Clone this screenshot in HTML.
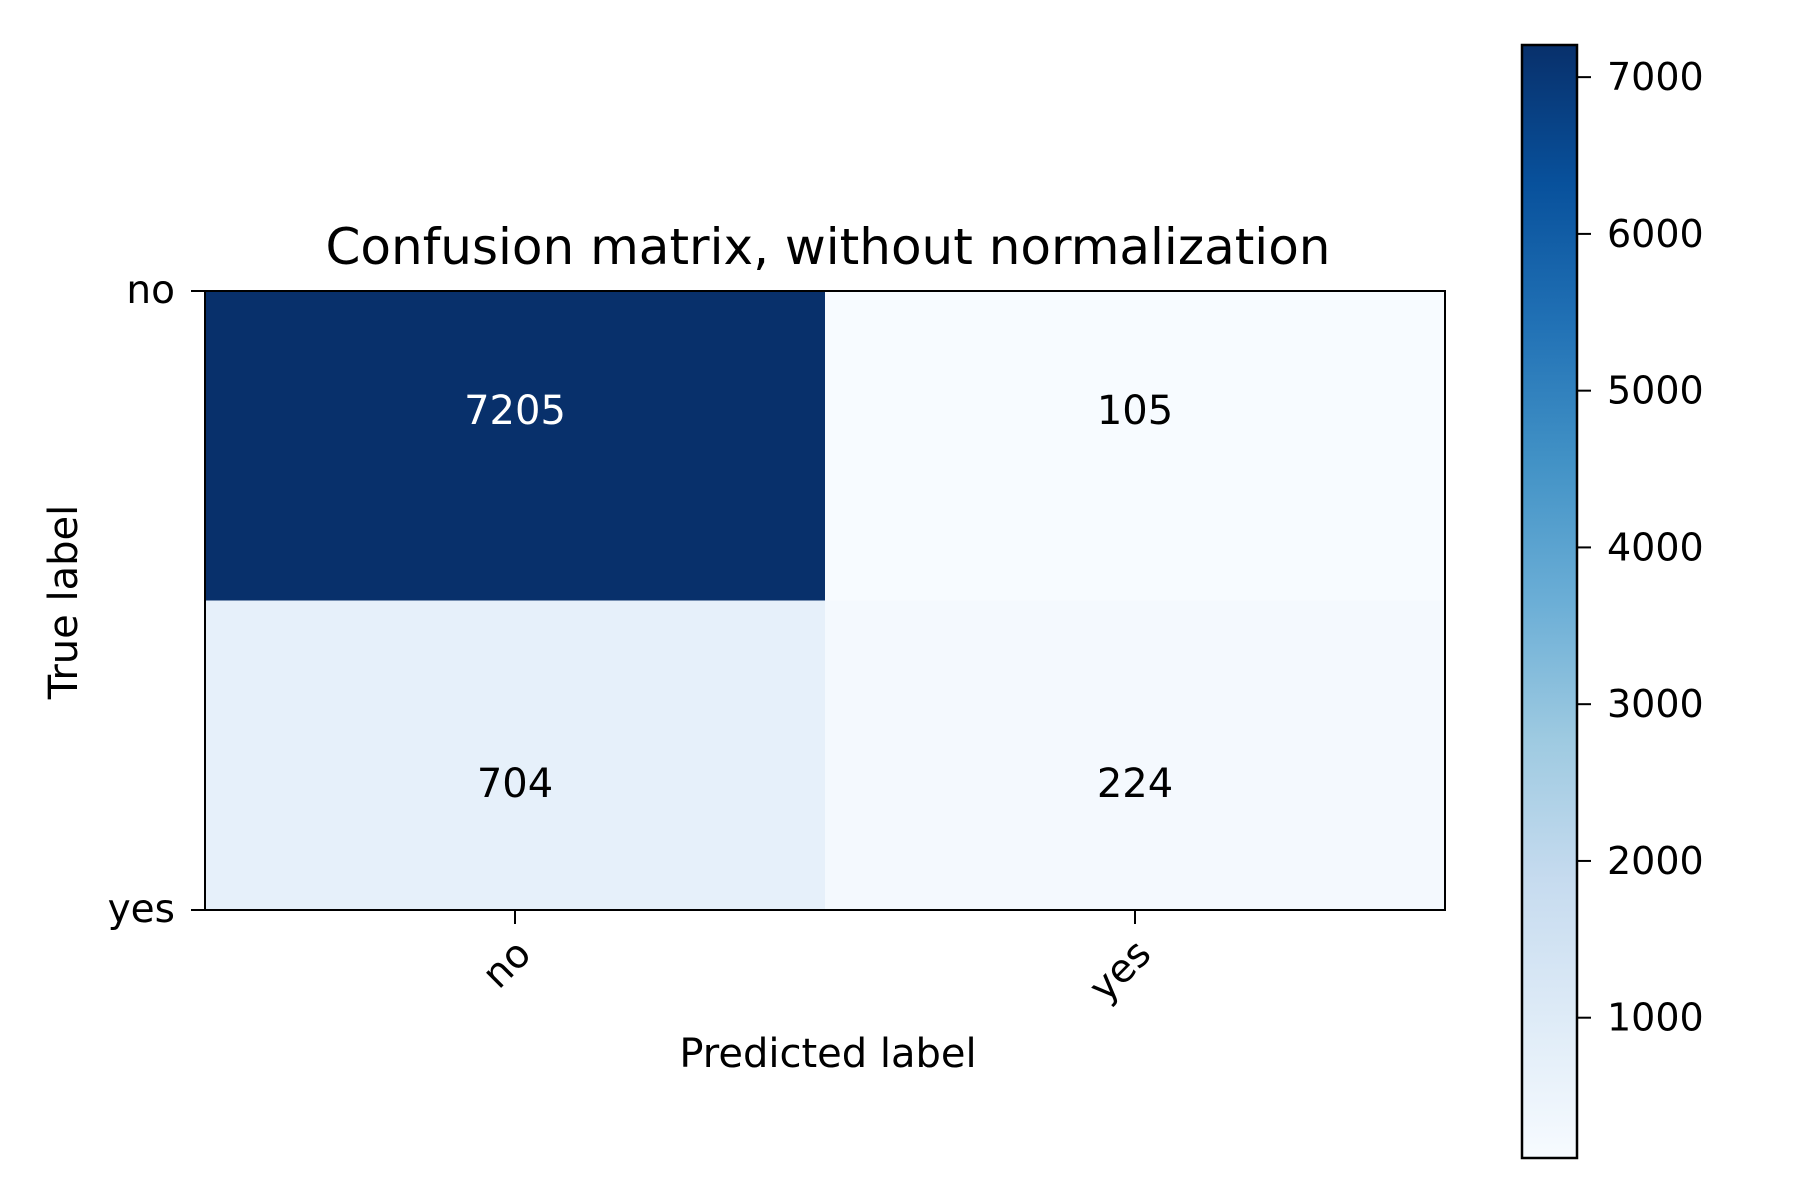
<!DOCTYPE html>
<html><head><meta charset="utf-8"><style>
html,body{margin:0;padding:0;background:#fff;}
svg{display:block;font-family:"DejaVu Sans","Liberation Sans",sans-serif;}
</style></head><body>
<svg id="chart" width="1800" height="1200" viewBox="0 0 1800 1200" xmlns="http://www.w3.org/2000/svg">
<rect width="1800" height="1200" fill="#fff"/>
<text x="828" y="264" font-size="50" text-anchor="middle" fill="#000">Confusion matrix, without normalization</text>
<g id="cells"></g>
<g id="axes"></g>
<text x="828" y="1067" font-size="40" text-anchor="middle">Predicted label</text>
<text x="0" y="0" font-size="40" text-anchor="middle" transform="translate(77,602) rotate(-90)">True label</text>
<defs><linearGradient id="cbgrad" x1="0" y1="1" x2="0" y2="0"></linearGradient></defs>
<g id="colorbar"></g>
</svg>
<script>
const trueLabels = ["no","yes"];
const predLabels = ["no","yes"];
const matrixValues = [[7205,105],[704,224]];
const colorbarTicks = [1000,2000,3000,4000,5000,6000,7000];
const blues = ["#f7fbff","#deebf7","#c6dbef","#9ecae1","#6baed6","#4292c6","#2171b5","#08519c","#08306b"];

const NS="http://www.w3.org/2000/svg";
function mk(tag,attrs,parent){const e=document.createElementNS(NS,tag);for(const k in attrs)e.setAttribute(k,attrs[k]);parent.appendChild(e);return e;}
function hex(c){return [1,3,5].map(i=>parseInt(c.substr(i,2),16));}
function cmap(t){t=Math.max(0,Math.min(1,t));const p=t*(blues.length-1);const i=Math.min(Math.floor(p),blues.length-2);const f=p-i;const a=hex(blues[i]),b=hex(blues[i+1]);return "rgb("+a.map((v,k)=>Math.round(v+(b[k]-v)*f)).join(",")+")";}
const flat=matrixValues.flat();const vmin=Math.min(...flat),vmax=Math.max(...flat);
const L=205,R=1445,T=291,B=910;
const nC=predLabels.length,nR=trueLabels.length;
const cw=(R-L)/nC,ch=(B-T)/nR;
const xC=j=>L+cw*(j+0.5);
const tY=i=>T+118+373*i;
const cells=document.getElementById('cells');
const axes=document.getElementById('axes');
const thresh=(vmax+vmin)/2;
for(let i=0;i<nR;i++)for(let j=0;j<nC;j++){
  const v=matrixValues[i][j];
  const r=mk('rect',{x:L+cw*j,y:T+ch*i,width:cw+0.5,height:ch+0.5,fill:cmap((v-vmin)/(vmax-vmin))},cells);
  
  
  const t=mk('text',{x:xC(j),y:tY(i)+15,'font-size':40,'text-anchor':'middle',fill:v>thresh?'#fff':'#000'},cells);
  t.textContent=v;
  
  
}
const frame=mk('rect',{x:L,y:T,width:R-L,height:B-T,fill:'none',stroke:'#000','stroke-width':2},axes);


predLabels.forEach((lab,j)=>{
  const x=xC(j);
  mk('line',{x1:x,y1:B,x2:x,y2:B+14,stroke:'#000','stroke-width':2},axes);
  const t=mk('text',{x:0,y:0,'font-size':39,'text-anchor':'end',transform:'translate('+(x+18)+','+(B+46)+') rotate(-45)'},axes);
  t.textContent=lab;
  
  
});
trueLabels.forEach((lab,i)=>{
  const y=T+(B-T)*i/(nR-1);
  mk('line',{x1:L-14,y1:y,x2:L,y2:y,stroke:'#000','stroke-width':2},axes);
  const t=mk('text',{x:L-30,y:y+12,'font-size':39,'text-anchor':'end'},axes);
  t.textContent=lab;
  
  
});
const grad=document.getElementById('cbgrad');
blues.forEach((c,k)=>mk('stop',{offset:(k/(blues.length-1)),'stop-color':c},grad));
const cb=document.getElementById('colorbar');
const CL=1522,CR=1577,CT=45,CB=1158;
const cy=v=>CB-(v-vmin)/(vmax-vmin)*(CB-CT);
const bar=mk('rect',{x:CL,y:CT,width:CR-CL,height:CB-CT,fill:'url(#cbgrad)',stroke:'#000','stroke-width':2.5},cb);


colorbarTicks.forEach(v=>{
  const y=cy(v);
  mk('line',{x1:CR,y1:y,x2:CR+14,y2:y,stroke:'#000','stroke-width':2},cb);
  const t=mk('text',{x:CR+30,y:y+13,'font-size':38},cb);
  t.textContent=v;
  
  
});
</script>
</body></html>
